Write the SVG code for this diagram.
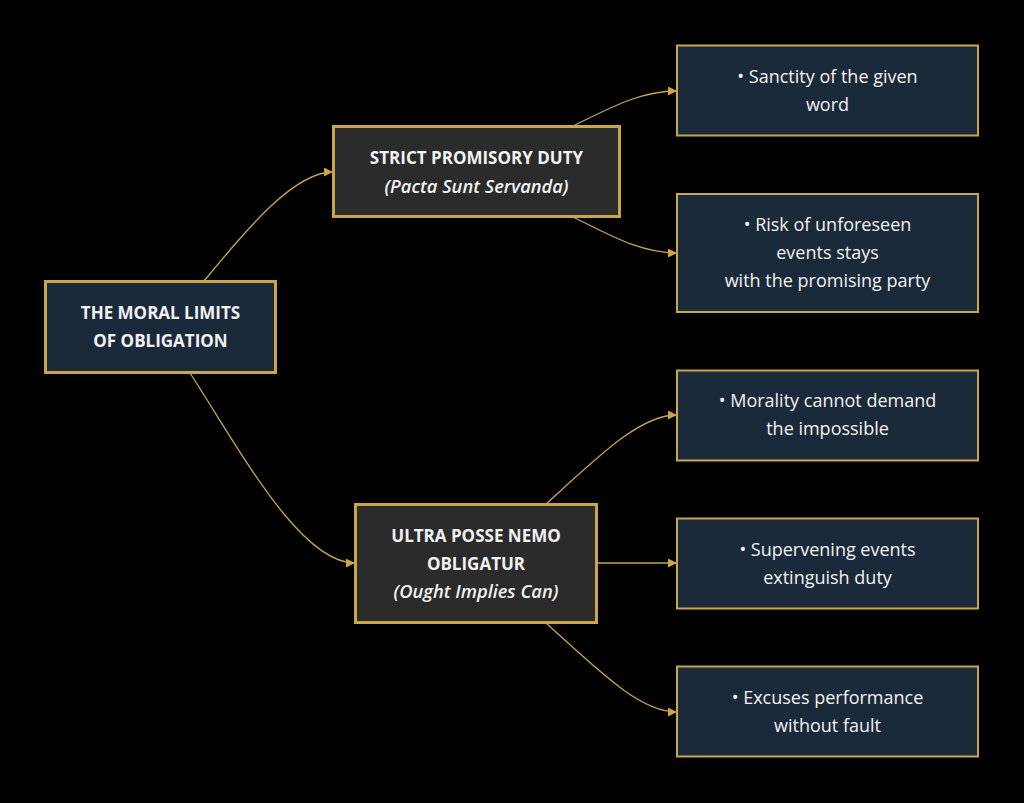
<svg xmlns="http://www.w3.org/2000/svg" width="1024" height="803" viewBox="0 0 1024 803">
<style>
.bg{fill:#000000}
.edge{fill:none;stroke:#c9a64a;stroke-width:1.3}
.main{fill:#1b2a3b;stroke:#c9a64a;stroke-width:3}
.branch{fill:#2b2b2b;stroke:#c9a64a;stroke-width:3}
.leaf{fill:#1b2a3b;stroke:#c9a64a;stroke-width:2}
text{font-family:"Open Sans","Noto Sans","DejaVu Sans",sans-serif;font-size:18px;fill:#f2f2f2;text-anchor:middle;dominant-baseline:central}
.b{font-weight:bold;font-size:17px}
.i{font-style:italic;font-weight:600;font-size:18.3px}
</style>
<defs>
<marker id="arrow" viewBox="0 0 10 10" refX="10" refY="5" markerWidth="9" markerHeight="9" markerUnits="userSpaceOnUse" orient="auto">
<path d="M0,0 L10,5 L0,10 z" fill="#c9a64a"/>
</marker>
</defs>
<rect class="bg" x="0" y="0" width="1024" height="803"/>
<g id="connectors">
<path class="edge" marker-end="url(#arrow)" d="M204,281 C250,225 295,172 333,172"/>
<path class="edge" marker-end="url(#arrow)" d="M190,373 C240,450 300,563 355,563"/>
<path class="edge" marker-end="url(#arrow)" d="M573,126 C610,108 640,91 677,91"/>
<path class="edge" marker-end="url(#arrow)" d="M573,217 C610,235 640,253 677,253"/>
<path class="edge" marker-end="url(#arrow)" d="M546,504 C600,455 640,415 677,415"/>
<path class="edge" marker-end="url(#arrow)" d="M597,563 L677,563"/>
<path class="edge" marker-end="url(#arrow)" d="M546,623 C600,672 640,712 677,712"/>
</g>
<g id="root">
<rect class="main" x="45.5" y="281.5" width="230" height="91"/>
<text class="b" x="160.5" y="312">THE MORAL LIMITS</text>
<text class="b" x="160.5" y="340">OF OBLIGATION</text>
</g>
<g id="strict">
<rect class="branch" x="333.5" y="126.5" width="286" height="90"/>
<text class="b" x="476.5" y="157">STRICT PROMISORY DUTY</text>
<text class="i" x="476.5" y="185">(Pacta Sunt Servanda)</text>
</g>
<g id="ultra">
<rect class="branch" x="355.5" y="504.5" width="241" height="118"/>
<text class="b" x="476" y="535">ULTRA POSSE NEMO</text>
<text class="b" x="476" y="563">OBLIGATUR</text>
<text class="i" x="476" y="590">(Ought Implies Can)</text>
</g>
<g id="leaf1">
<rect class="leaf" x="677" y="45.5" width="301" height="90"/>
<text x="827.5" y="76">• Sanctity of the given</text>
<text x="827.5" y="104">word</text>
</g>
<g id="leaf2">
<rect class="leaf" x="677" y="194" width="301" height="118"/>
<text x="827.5" y="224">• Risk of unforeseen</text>
<text x="827.5" y="252">events stays</text>
<text x="827.5" y="280">with the promising party</text>
</g>
<g id="leaf3">
<rect class="leaf" x="677" y="370.5" width="301" height="90"/>
<text x="827.5" y="400">• Morality cannot demand</text>
<text x="827.5" y="428">the impossible</text>
</g>
<g id="leaf4">
<rect class="leaf" x="677" y="518.5" width="301" height="90"/>
<text x="827.5" y="549">• Supervening events</text>
<text x="827.5" y="577">extinguish duty</text>
</g>
<g id="leaf5">
<rect class="leaf" x="677" y="666.5" width="301" height="90"/>
<text x="827.5" y="697">• Excuses performance</text>
<text x="827.5" y="725">without fault</text>
</g>
</svg>
